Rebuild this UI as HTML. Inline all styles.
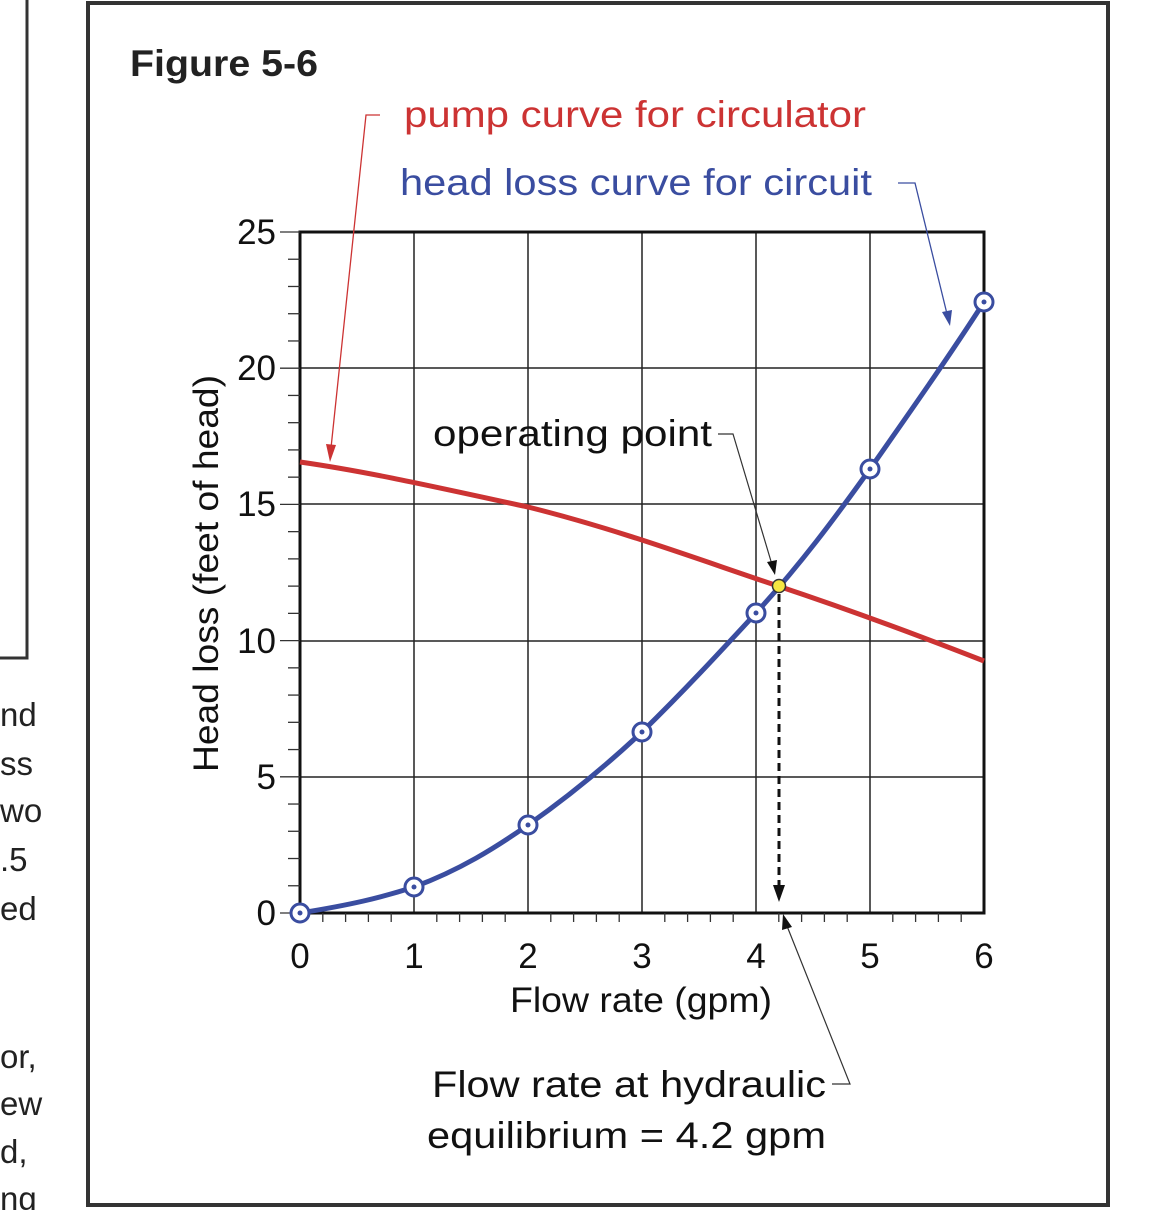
<!DOCTYPE html>
<html><head><meta charset="utf-8"><style>
html,body{margin:0;padding:0;background:#fff;}
svg{display:block;}
text{font-family:"Liberation Sans",Arial,sans-serif;}
</style></head><body>
<svg width="1170" height="1210" viewBox="0 0 1170 1210" xmlns="http://www.w3.org/2000/svg">
<rect x="0" y="0" width="1170" height="1210" fill="#fff"/>
<polyline points="27,0 27,658 0,658" fill="none" stroke="#333" stroke-width="3"/>
<g font-size="33" fill="#222">
<text x="0" y="726">nd</text><text x="0" y="775">ss</text><text x="0" y="822">wo</text>
<text x="0" y="871">.5</text><text x="0" y="920">ed</text>
<text x="0" y="1068">or,</text><text x="0" y="1115">ew</text><text x="0" y="1163">d,</text><text x="0" y="1210">ng</text>
</g>
<rect x="88" y="3" width="1020" height="1202" fill="none" stroke="#333" stroke-width="4"/>
<text x="130" y="76" font-size="37" font-weight="bold" fill="#222" textLength="188" lengthAdjust="spacingAndGlyphs">Figure 5-6</text>
<text x="404" y="127" font-size="37" fill="#cc3333" textLength="462" lengthAdjust="spacingAndGlyphs">pump curve for circulator</text>
<text x="400" y="195" font-size="37" fill="#3a4da0" textLength="472" lengthAdjust="spacingAndGlyphs">head loss curve for circuit</text>
<g stroke="#222" stroke-width="1.5">
<line x1="414" y1="232" x2="414" y2="913"/><line x1="528" y1="232" x2="528" y2="913"/>
<line x1="642" y1="232" x2="642" y2="913"/><line x1="756" y1="232" x2="756" y2="913"/>
<line x1="870" y1="232" x2="870" y2="913"/>
<line x1="300" y1="368" x2="984" y2="368"/><line x1="300" y1="504" x2="984" y2="504"/>
<line x1="300" y1="641" x2="984" y2="641"/><line x1="300" y1="777" x2="984" y2="777"/>
</g>
<rect x="300" y="232" width="684" height="681" fill="none" stroke="#111" stroke-width="3"/>
<g stroke="#333" stroke-width="1.3" id="ticks"></g>
<g font-size="35" fill="#111" text-anchor="end">
<text x="276" y="244">25</text><text x="276" y="380">20</text><text x="276" y="516">15</text>
<text x="276" y="653">10</text><text x="276" y="789">5</text><text x="276" y="925">0</text>
</g>
<g font-size="35" fill="#111" text-anchor="middle">
<text x="300" y="968">0</text><text x="414" y="968">1</text><text x="528" y="968">2</text>
<text x="642" y="968">3</text><text x="756" y="968">4</text><text x="870" y="968">5</text><text x="984" y="968">6</text>
</g>
<text x="510" y="1012" font-size="35" fill="#111" textLength="262" lengthAdjust="spacingAndGlyphs">Flow rate (gpm)</text>
<text transform="translate(218,772) rotate(-90)" font-size="35" fill="#111" textLength="397" lengthAdjust="spacingAndGlyphs">Head loss (feet of head)</text>
<path d="M300,462 C370,472 440,488 528,507 C620,530 700,560 778,586 C850,610 920,636 984,661" fill="none" stroke="#cc3333" stroke-width="5"/>
<path d="M300,913 C350,905 380,898 414,887 C460,870 495,848 528,825 C575,792 610,762 642,732 C685,690 720,652 756,613 C800,565 835,518 870,469 C910,412 950,355 984,302" fill="none" stroke="#3a4da0" stroke-width="5"/>
<g fill="#fff" stroke="#3a4da0" stroke-width="3">
<circle cx="300" cy="913" r="9"/><circle cx="414" cy="887" r="9"/><circle cx="528" cy="825" r="9"/>
<circle cx="642" cy="732" r="9"/><circle cx="756" cy="613" r="9"/><circle cx="870" cy="469" r="9"/><circle cx="984" cy="302" r="9"/>
</g>
<g fill="#3a4da0">
<circle cx="300" cy="913" r="2.5"/><circle cx="414" cy="887" r="2.5"/><circle cx="528" cy="825" r="2.5"/>
<circle cx="642" cy="732" r="2.5"/><circle cx="756" cy="613" r="2.5"/><circle cx="870" cy="469" r="2.5"/><circle cx="984" cy="302" r="2.5"/>
</g>
<line x1="779" y1="594" x2="779" y2="890" stroke="#111" stroke-width="3" stroke-dasharray="8,5"/>
<polygon points="773,885 785,885 779,902" fill="#111"/>
<circle cx="779" cy="586" r="6.5" fill="#f5e642" stroke="#333" stroke-width="1.5"/>
<text x="433" y="446" font-size="37" fill="#111" textLength="279" lengthAdjust="spacingAndGlyphs">operating point</text>
<polyline points="718,434 733,434 773,568" fill="none" stroke="#333" stroke-width="1.2"/>
<polygon points="767,562 777,560 775,575" fill="#111"/>
<polyline points="380,115 366,115 331,448" fill="none" stroke="#cc3333" stroke-width="1.3"/>
<polygon points="326,444 336,445 330,462" fill="#cc3333"/>
<polyline points="898,183 915,183 948,318" fill="none" stroke="#3a4da0" stroke-width="1.3"/>
<polygon points="942,312 952,310 950,326" fill="#3a4da0"/>
<text x="432" y="1097" font-size="37" fill="#111" textLength="394" lengthAdjust="spacingAndGlyphs">Flow rate at hydraulic</text>
<text x="427" y="1148" font-size="37" fill="#111" textLength="399" lengthAdjust="spacingAndGlyphs">equilibrium = 4.2 gpm</text>
<polyline points="832,1084 850,1084 787,926" fill="none" stroke="#333" stroke-width="1.2"/>
<polygon points="782,930 792,927 783,914" fill="#111"/>
</svg>
<script>
var g=document.getElementById('ticks'),s='';
for(var i=0;i<=30;i++){var x=300+i*22.8;if(i%5)s+='<line x1="'+x+'" y1="913" x2="'+x+'" y2="922"/>';}
for(var j=0;j<=25;j++){var y=913-j*27.24;s+='<line x1="'+(j%5?288:280)+'" y1="'+y+'" x2="300" y2="'+y+'"/>';}
g.innerHTML=s;
</script>
</body></html>
